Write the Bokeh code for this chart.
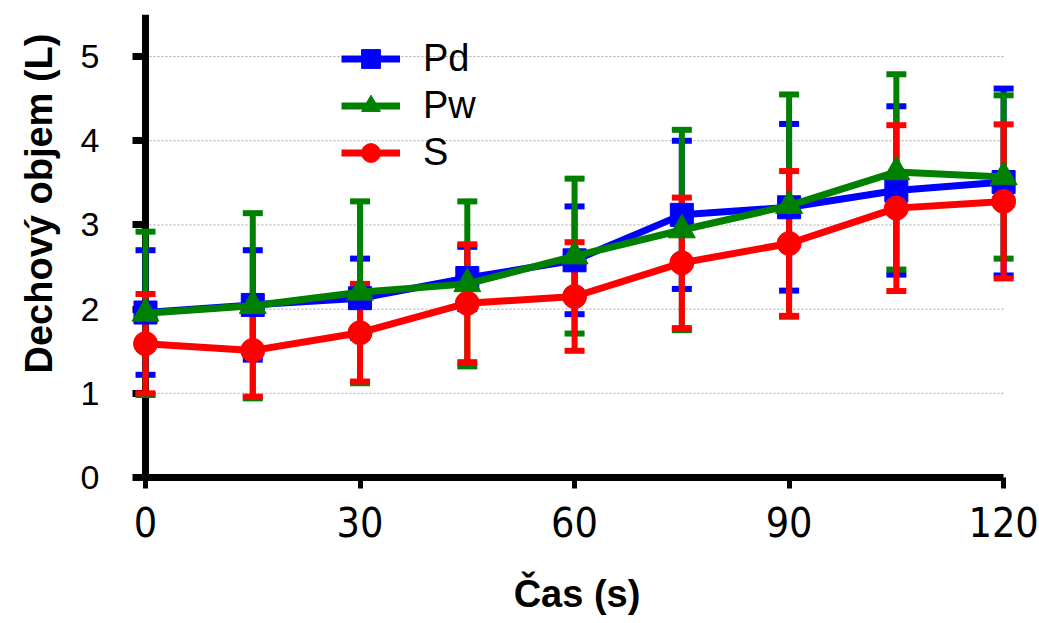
from bokeh.plotting import figure
from bokeh.models import FixedTicker, Range1d, Legend, LegendItem, Span, Title
from bokeh.embed import file_html
from bokeh.resources import INLINE

# ---- data ----
t = [0, 15, 30, 45, 60, 75, 90, 105, 120]
pd_mean = [1.96, 2.05, 2.13, 2.37, 2.58, 3.12, 3.21, 3.41, 3.51]
pd_err = [0.74, 0.65, 0.47, 0.37, 0.64, 0.88, 0.99, 1.00, 1.11]
pw_mean = [1.95, 2.04, 2.20, 2.30, 2.63, 2.94, 3.23, 3.63, 3.57]
pw_err = [0.97, 1.10, 1.08, 0.98, 0.92, 1.19, 1.32, 1.16, 0.97]
s_mean = [1.59, 1.51, 1.72, 2.07, 2.15, 2.55, 2.78, 3.20, 3.28]
s_err = [0.59, 0.55, 0.58, 0.70, 0.645, 0.775, 0.86, 0.985, 0.915]
series_names = ["Pd", "Pw", "S"]
x_ticks = [0, 30, 60, 90, 120]
y_ticks = [0, 1, 2, 3, 4, 5]
grid_levels = [1, 2, 3, 4, 5]
x_title = "Čas (s)"
y_title = "Dechový objem (L)"

colors = ["#0000FF", "#008000", "#FF0000"]
markers = ["square", "triangle", "circle"]
msizes = [23, 27, 24]

p = figure(width=1039, height=623, output_backend="svg", toolbar_location=None,
           x_range=Range1d(-1.82, 122.5), y_range=Range1d(0, 5.5),
           min_border_left=132, min_border_right=18, min_border_top=14,
           min_border_bottom=146)
p.outline_line_color = None
p.grid.visible = False

# dotted grid lines limited to the axis extent
p.segment(x0=[x_ticks[0]] * len(grid_levels), x1=[x_ticks[-1]] * len(grid_levels),
          y0=grid_levels, y1=grid_levels, line_color="#a6a6a6", line_width=1,
          line_dash="2 2", level="underlay")

# vertical axis line at x = 0
p.add_layout(Span(location=x_ticks[0], dimension="height", line_color="black",
                  line_width=7, level="guide"))

means = [pd_mean, pw_mean, s_mean]
errs = [pd_err, pw_err, s_err]

# error bars
for m, e, c in zip(means, errs, colors):
    lo = [a - b for a, b in zip(m, e)]
    hi = [a + b for a, b in zip(m, e)]
    p.segment(x0=t, x1=t, y0=lo, y1=hi, line_color=c, line_width=6, level="overlay")
    p.scatter(x=t + t, y=lo + hi, marker="dash", size=20, line_color=c,
              line_width=6, level="overlay")

items = []
for name, m, c, mk, ms in zip(series_names, means, colors, markers, msizes):
    ln = p.line(t, m, line_color=c, line_width=7, level="overlay", line_join="round")
    sc = p.scatter(t, m, marker=mk, size=ms, fill_color=c, line_color=c, level="overlay")
    items.append(LegendItem(label=name, renderers=[ln, sc]))

legend = Legend(items=items, location=(209, 301), glyph_width=59, glyph_height=47,
                label_standoff=23, spacing=0, padding=0, margin=0,
                label_text_font="Liberation Sans", label_text_font_size="38px",
                label_text_color="black",
                border_line_color=None, background_fill_alpha=0)
p.add_layout(legend)

# axes
xa = p.xaxis[0]
xa.ticker = FixedTicker(ticks=x_ticks)
xa.bounds = (x_ticks[0], x_ticks[-1])
xa.axis_line_width = 7
xa.axis_line_color = "black"
xa.major_tick_line_width = 5
xa.major_tick_line_color = "black"
xa.major_tick_out = 11
xa.major_tick_in = 0
xa.minor_tick_line_color = None
xa.major_label_text_font = "'Liberation Sans Narrow', 'DejaVu Sans Condensed', 'Liberation Sans', sans-serif"
xa.major_label_text_font_size = "41px"
xa.major_label_text_color = "black"
xa.major_label_standoff = 18
xa.axis_label = x_title
xa.axis_label_text_font = "Liberation Sans"
xa.axis_label_text_font_style = "bold"
xa.axis_label_text_font_size = "38px"
xa.axis_label_text_color = "black"
xa.axis_label_standoff = 33

ya = p.yaxis[0]
ya.ticker = FixedTicker(ticks=y_ticks)
ya.bounds = (0, 5)
ya.axis_line_color = None
ya.major_tick_line_width = 7
ya.major_tick_line_color = "black"
ya.major_tick_out = 0
ya.major_tick_in = 13
ya.minor_tick_line_color = None
ya.major_label_text_font = "Liberation Sans"
ya.major_label_text_font_size = "34px"
ya.major_label_text_color = "black"
ya.major_label_standoff = 33

p.add_layout(Title(text=y_title, align="left", offset=104, standoff=33,
                   vertical_align="middle",
                   text_font="Liberation Sans", text_font_style="bold",
                   text_font_size="38px", text_color="black"), "left")

open("out.html", "w").write(file_html(p, INLINE))
